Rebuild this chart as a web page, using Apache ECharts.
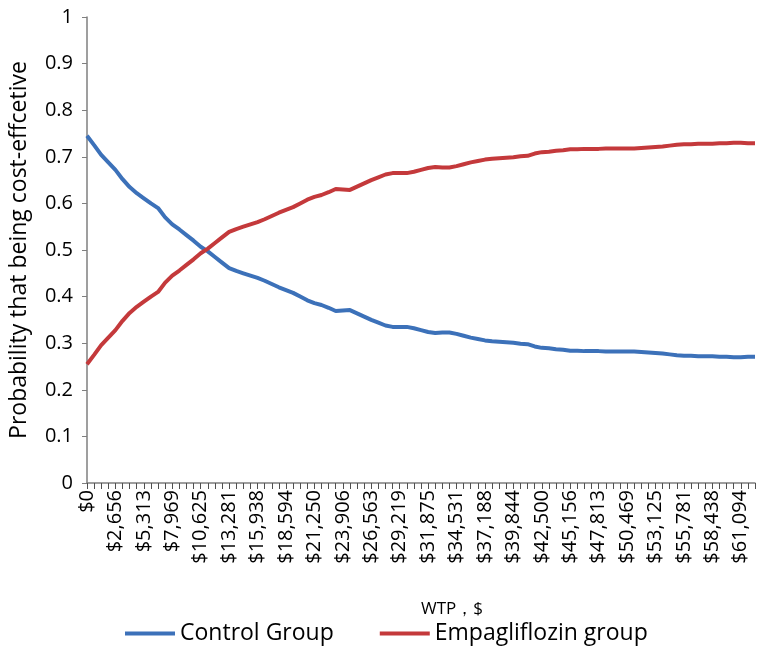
<!DOCTYPE html>
<html>
<head>
<meta charset="utf-8">
<script src="https://cdn.jsdelivr.net/npm/echarts@6/dist/echarts.min.js"></script>
<style>
  html, body { margin: 0; padding: 0; background: #fff; }
  #chart { width: 765px; height: 654px; }
</style>
</head>
<body>
<div id="chart"></div>
<script>
// WTP threshold step between categories and how many categories are plotted
const wtpStep = 664.0625;
const wtpCount = 95;

const controlGroup = [
  0.745, 0.725, 0.704, 0.688, 0.672, 0.652, 0.635, 0.622, 0.611, 0.600,
  0.590, 0.570, 0.555, 0.544, 0.532, 0.520, 0.507, 0.497, 0.485, 0.473,
  0.461, 0.455, 0.450, 0.445, 0.440, 0.434, 0.427, 0.420, 0.414, 0.408,
  0.400, 0.392, 0.386, 0.382, 0.376, 0.369, 0.370, 0.371, 0.364, 0.357,
  0.350, 0.344, 0.338, 0.335, 0.335, 0.335, 0.332, 0.328, 0.324, 0.322,
  0.323, 0.323, 0.320, 0.316, 0.312, 0.309, 0.306, 0.304, 0.303, 0.302,
  0.301, 0.299, 0.298, 0.293, 0.290, 0.289, 0.287, 0.286, 0.284, 0.284,
  0.283, 0.283, 0.283, 0.282, 0.282, 0.282, 0.282, 0.282, 0.281, 0.280,
  0.279, 0.278, 0.276, 0.274, 0.273, 0.273, 0.272, 0.272, 0.272, 0.271,
  0.271, 0.270, 0.270, 0.271, 0.271
];

const empagliflozinGroup = [
  0.255, 0.275, 0.296, 0.312, 0.328, 0.348, 0.365, 0.378, 0.389, 0.400,
  0.410, 0.430, 0.445, 0.456, 0.468, 0.480, 0.493, 0.503, 0.515, 0.527,
  0.539, 0.545, 0.550, 0.555, 0.560, 0.566, 0.573, 0.580, 0.586, 0.592,
  0.600, 0.608, 0.614, 0.618, 0.624, 0.631, 0.630, 0.629, 0.636, 0.643,
  0.650, 0.656, 0.662, 0.665, 0.665, 0.665, 0.668, 0.672, 0.676, 0.678,
  0.677, 0.677, 0.680, 0.684, 0.688, 0.691, 0.694, 0.696, 0.697, 0.698,
  0.699, 0.701, 0.702, 0.707, 0.710, 0.711, 0.713, 0.714, 0.716, 0.716,
  0.717, 0.717, 0.717, 0.718, 0.718, 0.718, 0.718, 0.718, 0.719, 0.720,
  0.721, 0.722, 0.724, 0.726, 0.727, 0.727, 0.728, 0.728, 0.728, 0.729,
  0.729, 0.730, 0.730, 0.729, 0.729
];

const categories = [];
for (let i = 0; i < wtpCount; i++) {
  categories.push('$' + Math.round(i * wtpStep).toLocaleString('en-US'));
}

const fontFamily = '"Open Sans", "Noto Sans", sans-serif';
const axisGray = '#7f7f7f';

const chart = echarts.init(document.getElementById('chart'));
chart.setOption({
  animation: false,
  textStyle: { fontFamily },
  grid: { left: 86, right: 10, top: 17, bottom: 171 },
  legend: {
    bottom: 4,
    left: 120,
    itemWidth: 50,
    itemHeight: 4,
    itemGap: 46,
    icon: 'rect',
    textStyle: { fontSize: 23, color: '#000', fontFamily },
    data: ['Control Group', 'Empagliflozin group']
  },
  xAxis: {
    type: 'category',
    data: categories,
    boundaryGap: false,
    name: 'WTP，$',
    nameLocation: 'middle',
    nameGap: 118,
    nameTextStyle: { fontSize: 17, color: '#000', fontFamily, padding: [0, 0, 0, 62] },
    axisLine: { lineStyle: { color: axisGray, width: 1.5 } },
    axisTick: {
      show: true,
      interval: 0,
      alignWithLabel: true,
      length: 6,
      lineStyle: { color: '#505050', width: 1 }
    },
    axisLabel: {
      interval: 3,
      rotate: 90,
      fontSize: 20,
      color: '#000',
      margin: 7,
      fontFamily
    },
    splitLine: { show: false }
  },
  yAxis: {
    type: 'value',
    min: 0,
    max: 1,
    interval: 0.1,
    name: 'Probability that being cost-effcetive',
    nameLocation: 'middle',
    nameGap: 56,
    nameTextStyle: { fontSize: 23, color: '#000', fontFamily },
    axisLine: { show: true, lineStyle: { color: axisGray, width: 1.5 } },
    axisTick: { show: true, length: 5, lineStyle: { color: axisGray } },
    axisLabel: {
      fontSize: 20,
      color: '#000',
      margin: 14,
      fontFamily,
      formatter: (v) => String(Math.round(v * 10) / 10)
    },
    splitLine: { show: false }
  },
  series: [
    {
      name: 'Control Group',
      type: 'line',
      data: controlGroup,
      symbol: 'none',
      smooth: false,
      lineStyle: { width: 4, color: '#3c71b9' },
      itemStyle: { color: '#3c71b9' }
    },
    {
      name: 'Empagliflozin group',
      type: 'line',
      data: empagliflozinGroup,
      symbol: 'none',
      smooth: false,
      lineStyle: { width: 4, color: '#c4393b' },
      itemStyle: { color: '#c4393b' }
    }
  ]
});
</script>
</body>
</html>
